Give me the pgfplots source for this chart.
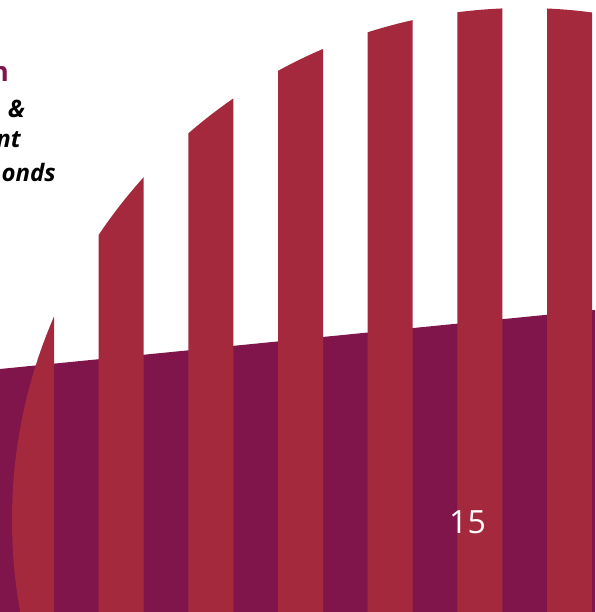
\documentclass[border=0pt]{standalone}
\usepackage{pgfplots}
\pgfplotsset{compat=1.18}
\usepackage{fontspec}
\setmainfont{Open Sans}
\definecolor{barred}{RGB}{165,41,61}
\definecolor{plum}{RGB}{128,21,76}
\pgfplotsset{base/.style={hide axis, scale only axis, width=595pt, height=612pt,
  xmin=0, xmax=595, ymin=0, ymax=612, at={(0pt,0pt)}, anchor=origin}}
\begin{document}
\begin{tikzpicture}
\path[use as bounding box] (0pt,0pt) rectangle (595pt,612pt);
\begin{axis}[base]
\addplot[fill=plum, draw=none] coordinates {(0,243) (595,302)} \closedcycle;
\end{axis}
\begin{scope}
\clip (524pt,92pt) circle[radius=512pt];
\begin{axis}[base, ybar, bar width=45, bar shift=0pt]
\addplot[fill=barred, draw=none] coordinates {
(31.5,612) (121.2,612) (210.8,612) (300.5,612) (390.2,612) (479.8,612) (569.5,612)};
\end{axis}
\end{scope}
\node[anchor=base east, inner sep=0pt, text=plum, font=\fontsize{27}{30}\selectfont\bfseries] at (9pt,530pt) {n};
\node[anchor=base east, inner sep=0pt, font=\fontsize{24}{28}\selectfont\bfseries\itshape] at (25pt,494pt) {\&};
\node[anchor=base east, inner sep=0pt, font=\fontsize{24}{28}\selectfont\bfseries\itshape] at (21pt,464pt) {nt};
\node[anchor=base east, inner sep=0pt, font=\fontsize{24}{28}\selectfont\bfseries\itshape] at (56pt,430pt) {onds};
\node[anchor=base west, inner sep=0pt, text=white, font=\fontsize{32}{38}\selectfont] at (449pt,78pt) {15};
\end{tikzpicture}
\end{document}
